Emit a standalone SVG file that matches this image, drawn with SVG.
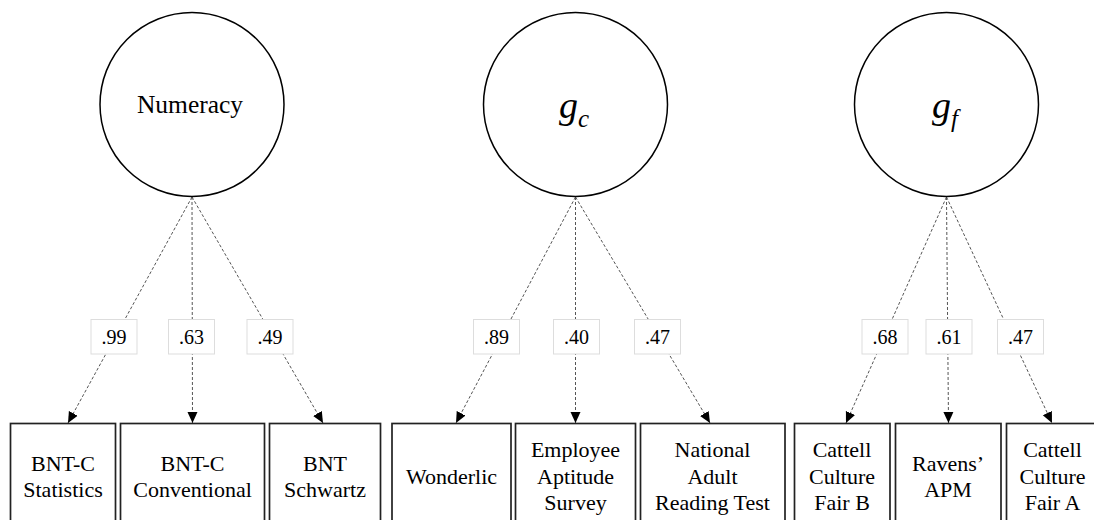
<svg xmlns="http://www.w3.org/2000/svg" width="1094" height="520" viewBox="0 0 1094 520">
  <style>
    .latent { fill: #fff; stroke: #000; stroke-width: 1.5; }
    .obs { fill: #fff; stroke: #222; stroke-width: 1.7; }
    .path { fill: none; stroke: #555; stroke-width: 1; stroke-dasharray: 3 2; }
    .lbl { fill: #fff; stroke: #ddd; stroke-width: 1; }
  </style>
  <defs>
    <marker id="arrow" markerUnits="userSpaceOnUse" markerWidth="12" markerHeight="12" viewBox="0 0 12 12" refX="11" refY="6" orient="auto">
      <path d="M0,1 L11,6 L0,11 Z" fill="#000"/>
    </marker>
  </defs>

  <rect width="1094" height="520" fill="#fff"/>

  <g font-family="Liberation Serif, Times New Roman, serif" text-anchor="middle" fill="#000">
  <!-- factor loadings -->
  <g id="connectors">
    <line class="path" x1="192" y1="197" x2="68" y2="423" marker-end="url(#arrow)"/>
    <line class="path" x1="192" y1="197" x2="192.5" y2="423" marker-end="url(#arrow)"/>
    <line class="path" x1="192" y1="197" x2="323" y2="423" marker-end="url(#arrow)"/>
    <line class="path" x1="575.5" y1="197" x2="456" y2="423" marker-end="url(#arrow)"/>
    <line class="path" x1="575.5" y1="197" x2="575.5" y2="423" marker-end="url(#arrow)"/>
    <line class="path" x1="575.5" y1="197" x2="710" y2="423" marker-end="url(#arrow)"/>
    <line class="path" x1="946.5" y1="197" x2="846" y2="423" marker-end="url(#arrow)"/>
    <line class="path" x1="946.5" y1="197" x2="948.5" y2="423" marker-end="url(#arrow)"/>
    <line class="path" x1="946.5" y1="197" x2="1052" y2="423" marker-end="url(#arrow)"/>

    <g id="loading-labels" font-size="20">
      <rect class="lbl" x="91" y="319.5" width="46" height="34.5"/>
      <text x="114" y="344">.99</text>
      <rect class="lbl" x="168.5" y="319.5" width="46" height="34.5"/>
      <text x="191.5" y="344">.63</text>
      <rect class="lbl" x="247" y="319.5" width="46" height="34.5"/>
      <text x="270" y="344">.49</text>

      <rect class="lbl" x="473.5" y="319.5" width="46" height="34.5"/>
      <text x="496.5" y="344">.89</text>
      <rect class="lbl" x="553.5" y="319.5" width="46" height="34.5"/>
      <text x="576.5" y="344">.40</text>
      <rect class="lbl" x="634.5" y="319.5" width="46" height="34.5"/>
      <text x="657.5" y="344">.47</text>

      <rect class="lbl" x="862" y="319.5" width="46" height="34.5"/>
      <text x="885" y="344">.68</text>
      <rect class="lbl" x="926" y="319.5" width="46" height="34.5"/>
      <text x="949" y="344">.61</text>
      <rect class="lbl" x="997.5" y="319.5" width="46" height="34.5"/>
      <text x="1020.5" y="344">.47</text>
    </g>
  </g>

  <!-- latent factors -->
  <g id="numeracy">
    <circle class="latent" cx="192" cy="104.5" r="92"/>
    <text x="190" y="113" font-size="25.5">Numeracy</text>
  </g>
  <g id="gc">
    <circle class="latent" cx="575.5" cy="104.5" r="92"/>
    <text x="574" y="118" font-style="italic"><tspan font-size="38">g</tspan><tspan font-size="25" dy="9">c</tspan></text>
  </g>
  <g id="gf">
    <circle class="latent" cx="946.5" cy="104.5" r="92"/>
    <text x="945" y="118" font-style="italic"><tspan font-size="38">g</tspan><tspan font-size="25" dy="9">f</tspan></text>
  </g>

  <!-- observed indicators -->
  <g font-size="22">
  <g id="bnt-c-statistics">
    <rect class="obs" x="10.5" y="423.5" width="105" height="130"/>
    <text x="63" y="470.5">BNT-C</text>
    <text x="63" y="496.5">Statistics</text>
  </g>
  <g id="bnt-c-conventional">
    <rect class="obs" x="120.5" y="423.5" width="144" height="130"/>
    <text x="192.5" y="470.5">BNT-C</text>
    <text x="192.5" y="496.5">Conventional</text>
  </g>
  <g id="bnt-schwartz">
    <rect class="obs" x="269.5" y="423.5" width="111" height="130"/>
    <text x="325" y="470.5">BNT</text>
    <text x="325" y="496.5">Schwartz</text>
  </g>
  <g id="wonderlic">
    <rect class="obs" x="392" y="423.5" width="119" height="130"/>
    <text x="451.5" y="483.5">Wonderlic</text>
  </g>
  <g id="employee-aptitude-survey">
    <rect class="obs" x="515.5" y="423.5" width="120" height="130"/>
    <text x="575.5" y="456.5">Employee</text>
    <text x="575.5" y="483.5">Aptitude</text>
    <text x="575.5" y="510">Survey</text>
  </g>
  <g id="national-adult-reading-test">
    <rect class="obs" x="640.5" y="423.5" width="144.5" height="130"/>
    <text x="712.5" y="456.5">National</text>
    <text x="712.5" y="483.5">Adult</text>
    <text x="712.5" y="510">Reading Test</text>
  </g>
  <g id="cattell-culture-fair-b">
    <rect class="obs" x="794.5" y="423.5" width="95.5" height="130"/>
    <text x="842" y="456.5">Cattell</text>
    <text x="842" y="483.5">Culture</text>
    <text x="842" y="510">Fair B</text>
  </g>
  <g id="ravens-apm">
    <rect class="obs" x="895.5" y="423.5" width="105.5" height="130"/>
    <text x="948" y="470.5">Ravens’</text>
    <text x="948" y="496.5">APM</text>
  </g>
  <g id="cattell-culture-fair-a">
    <rect class="obs" x="1006.5" y="423.5" width="100" height="130"/>
    <text x="1052.5" y="456.5">Cattell</text>
    <text x="1052.5" y="483.5">Culture</text>
    <text x="1052.5" y="510">Fair A</text>
  </g>
  </g>
  </g>
</svg>
